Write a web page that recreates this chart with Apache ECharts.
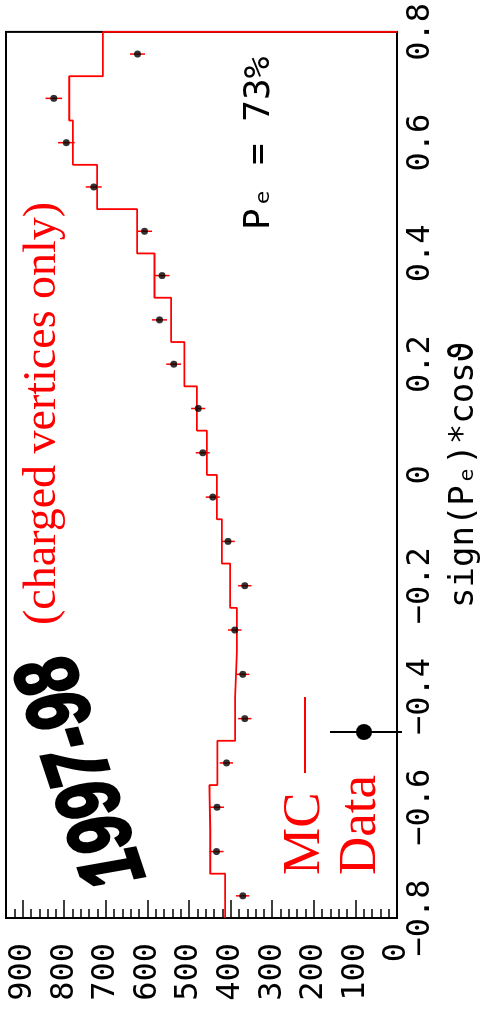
<!DOCTYPE html>
<html>
<head>
<meta charset="utf-8">
<script src="https://cdn.jsdelivr.net/npm/echarts@6/dist/echarts.min.js"></script>
<style>
html, body { margin: 0; padding: 0; background: #fff; overflow: hidden; }
/* the whole plot is turned on its side, as in the scan */
#chart {
    position: absolute; left: 0; top: 0;
    width: 1015px; height: 490px;
    transform-origin: 0 0;
    transform: translateY(1015px) rotate(-90deg);
}
</style>
</head>
<body>
<div id="chart"></div>
<script>
// bins of sign(Pe)*cos(theta)
var binEdges = [-0.8, -0.72, -0.64, -0.56, -0.48, -0.4, -0.32, -0.24, -0.16, -0.08, 0,
                0.08, 0.16, 0.24, 0.32, 0.4, 0.48, 0.56, 0.64, 0.72, 0.8];
var binCenters = [-0.76, -0.68, -0.6, -0.52, -0.44, -0.36, -0.28, -0.2, -0.12, -0.04,
                  0.04, 0.12, 0.2, 0.28, 0.36, 0.44, 0.52, 0.6, 0.68, 0.76];
// MC histogram
var mcCounts = [413, 449, 451, 432, 389, 385, 385, 401, 421, 433,
                457, 481, 511, 543, 583, 625, 721, 779, 788, 707];
// data points and their errors
var dataCounts = [371, 434, 433, 410, 366, 371, 390, 366, 406, 443,
                  467, 478, 537, 571, 565, 607, 729, 795, 825, 624];
var dataErrors = [16, 17, 17, 16, 16, 16, 16, 16, 16, 17,
                  17, 17, 18, 18, 18, 18, 19, 20, 20, 18];

var monoFont = 'DejaVu Sans Mono';
var serifFont = 'Liberation Serif';

var myChart = echarts.init(document.getElementById('chart'));

// step line: every bin edge with its value, then drop to 0 at the last edge
var mcLine = [];
for (var i = 0; i < mcCounts.length; i++) {
    mcLine.push([binEdges[i], mcCounts[i]]);
}
mcLine.push([binEdges[binEdges.length - 1], mcCounts[mcCounts.length - 1]]);
mcLine.push([binEdges[binEdges.length - 1], 0]);

var points = [];
var bars = [];
for (var j = 0; j < dataCounts.length; j++) {
    points.push([binCenters[j], dataCounts[j]]);
    bars.push([binCenters[j], dataCounts[j], dataErrors[j]]);
}

var option = {
    animation: false,
    backgroundColor: '#fff',
    grid: {
        left: 97, right: 28, top: 6, bottom: 93,
        show: true, borderColor: '#000', borderWidth: 2
    },
    xAxis: {
        type: 'value',
        min: -0.8, max: 0.8, interval: 0.2,
        name: 'sign(P\u2091)*cos\u03d1',
        nameLocation: 'middle',
        nameGap: 50,
        nameTextStyle: { fontFamily: monoFont, fontSize: 34, color: '#000' },
        axisLine: { show: true, onZero: false, lineStyle: { color: '#000', width: 2 } },
        axisTick: { show: false },
        splitLine: { show: false },
        axisLabel: {
            margin: 8,
            fontFamily: monoFont, fontSize: 32, color: '#000',
            formatter: function (v) {
                return String(Math.round(v * 10) / 10).replace('-', '\u2212');
            }
        }
    },
    yAxis: {
        type: 'value',
        min: 0, max: 940, interval: 100,
        axisLine: { show: true, onZero: false, lineStyle: { color: '#000', width: 2 } },
        axisTick: { show: true, inside: true, length: 18, lineStyle: { color: '#000', width: 1.5 } },
        minorTick: { show: true, splitNumber: 5, length: 9, lineStyle: { color: '#000', width: 1.5 } },
        splitLine: { show: false },
        axisLabel: {
            margin: 25,
            fontFamily: monoFont, fontSize: 32, color: '#000',
            formatter: function (v) { return v % 100 === 0 ? String(v) : ''; }
        }
    },
    series: [
        {
            name: 'MC',
            type: 'line',
            step: 'end',
            data: mcLine,
            showSymbol: false,
            clip: false,
            lineStyle: { color: '#ff0000', width: 1.8 },
            z: 3
        },
        {
            name: 'errors',
            type: 'custom',
            data: bars,
            renderItem: function (params, api) {
                var lo = api.coord([api.value(0), api.value(1) - api.value(2)]);
                var hi = api.coord([api.value(0), api.value(1) + api.value(2)]);
                return {
                    type: 'line',
                    shape: { x1: lo[0], y1: lo[1], x2: hi[0], y2: hi[1] },
                    style: { stroke: '#ff0000', lineWidth: 1.5 }
                };
            },
            z: 4
        },
        {
            name: 'Data',
            type: 'scatter',
            data: points,
            symbol: 'circle',
            symbolSize: 7,
            itemStyle: { color: '#000' },
            z: 5
        }
    ],
    graphic: [
        {
            type: 'text',
            x: 130, y: 122,
            rotation: 0.32,
            scaleX: 0.74,
            style: {
                text: '1997-98',
                font: 'italic bold 88px "Liberation Sans"',
                fill: '#000', stroke: '#000', lineWidth: 3,
                textAlign: 'left', verticalAlign: 'middle'
            }
        },
        {
            type: 'text',
            x: 390, y: 43,
            style: {
                text: '(charged vertices only)',
                font: '46px "' + serifFont + '"',
                fill: '#ff0000',
                textAlign: 'left', verticalAlign: 'middle'
            }
        },
        {
            type: 'text',
            x: 785, y: 260,
            style: {
                text: 'P\u2091 = 73%',
                font: '36px "' + monoFont + '"',
                fill: '#000',
                textAlign: 'left', verticalAlign: 'middle'
            }
        },
        // legend
        {
            type: 'text',
            x: 140, y: 305,
            style: {
                text: 'MC',
                font: '53px "' + serifFont + '"',
                fill: '#ff0000',
                textAlign: 'left', verticalAlign: 'middle'
            }
        },
        {
            type: 'line',
            shape: { x1: 242, y1: 305, x2: 318, y2: 305 },
            style: { stroke: '#ff0000', lineWidth: 2 }
        },
        {
            type: 'text',
            x: 140, y: 361,
            style: {
                text: 'Data',
                font: '53px "' + serifFont + '"',
                fill: '#ff0000',
                textAlign: 'left', verticalAlign: 'middle'
            }
        },
        {
            type: 'line',
            shape: { x1: 283, y1: 330, x2: 283, y2: 402 },
            style: { stroke: '#000', lineWidth: 2 }
        },
        {
            type: 'circle',
            shape: { cx: 283, cy: 364, r: 8 },
            style: { fill: '#000' }
        }
    ]
};

myChart.setOption(option);
</script>
</body>
</html>
